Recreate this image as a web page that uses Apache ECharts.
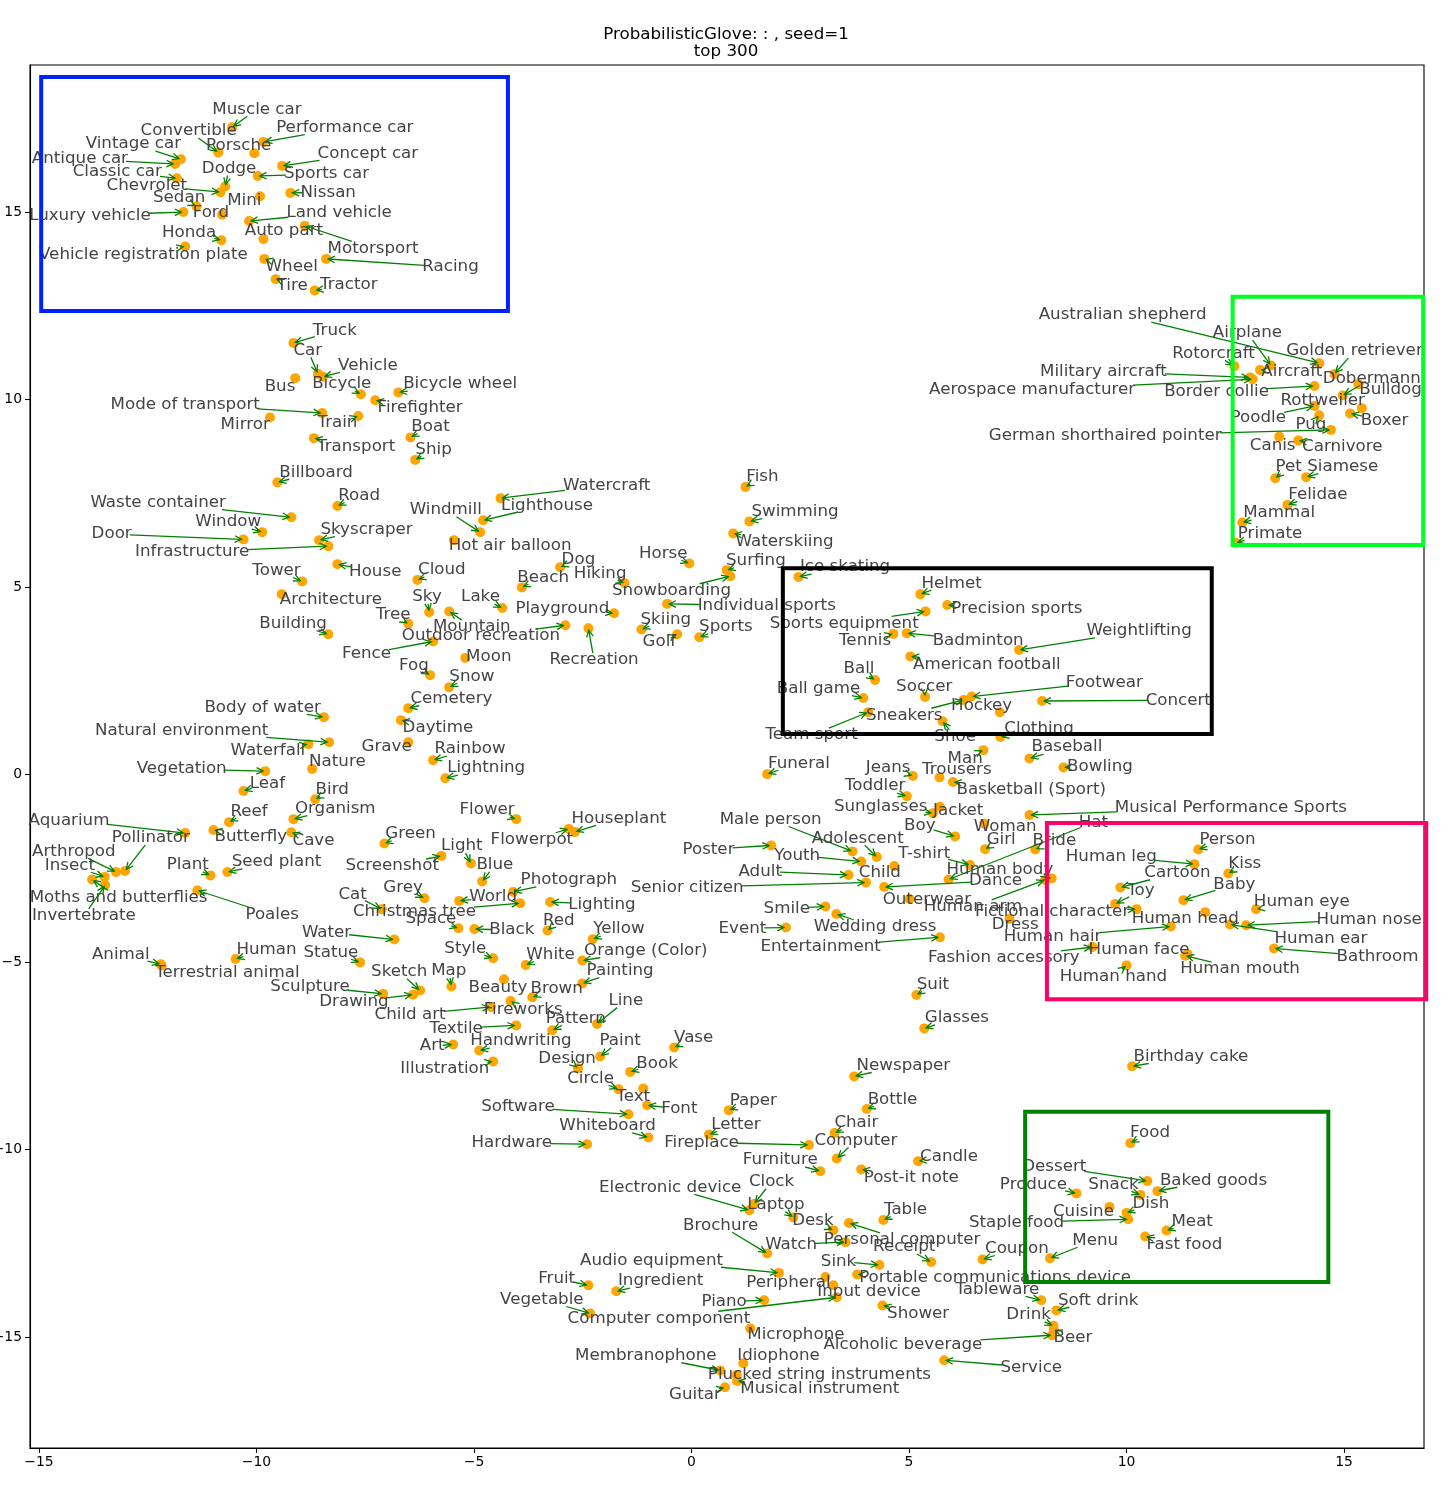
<!DOCTYPE html>
<html><head><meta charset="utf-8">
<script src="https://cdn.jsdelivr.net/npm/echarts@6/dist/echarts.min.js"></script>
<style>html,body{margin:0;padding:0;background:#fff}#chart{width:1452px;height:1492px}</style>
</head><body><div id="chart"></div>
<script>
const labels = [
"Muscle car","Convertible","Performance car","Porsche","Vintage car","Antique car","Classic car","Concept car","Dodge","Sports car",
"Chevrolet","Nissan","Sedan","Mini","Luxury vehicle","Ford","Land vehicle","Motorsport","Auto part","Honda",
"Vehicle registration plate","Racing","Wheel","Tire","Tractor","Truck","Car","Vehicle","Bus","Bicycle",
"Bicycle wheel","Firefighter","Mode of transport","Train","Mirror","Boat","Ship","Transport","Billboard","Road",
"Waste container","Window","Door","Skyscraper","Infrastructure","Windmill","Lighthouse","Hot air balloon","Watercraft","House",
"Cloud","Tower","Architecture","Sky","Lake","Mountain","Tree","Building","Outdoor recreation","Recreation",
"Fence","Moon","Fog","Snow","Cemetery","Daytime","Body of water","Natural environment","Waterfall","Grave",
"Rainbow","Nature","Vegetation","Lightning","Leaf","Bird","Organism","Reef","Aquarium","Butterfly",
"Cave","Green","Screenshot","Light","Blue","Pollinator","Arthropod","Insect","Plant","Seed plant",
"Moths and butterflies","Invertebrate","Poales","Grey","Cat","Photograph","World","Christmas tree","Space","Black",
"Water","Style","Animal","Terrestrial animal","Human","Statue","Sketch","Map","Sculpture","Drawing",
"Child art","Beauty","Fireworks","Textile","Art","Handwriting","Illustration","Flower","Houseplant","Flowerpot",
"Lighting","Red","Yellow","White","Orange (Color)","Painting","Brown","Pattern","Line","Paint",
"Design","Vase","Book","Circle","Text","Font","Software","Whiteboard","Hardware","Paper",
"Letter","Fireplace","Chair","Bottle","Computer","Candle","Furniture","Post-it note","Clock","Electronic device",
"Laptop","Desk","Personal computer","Table","Brochure","Watch","Receipt","Sink","Audio equipment","Portable communications device",
"Peripheral","Input device","Computer component","Fruit","Ingredient","Vegetable","Piano","Shower","Microphone","Alcoholic beverage",
"Service","Membranophone","Idiophone","Plucked string instruments","Musical instrument","Guitar","Tableware","Soft drink","Drink","Beer",
"Coupon","Menu","Food","Dessert","Produce","Snack","Baked goods","Cuisine","Dish","Staple food",
"Meat","Fast food","Newspaper","Birthday cake","Glasses","Suit","Fashion accessory","Entertainment","Event","Smile",
"Wedding dress","Dress","Human arm","Outerwear","Fictional character","Human hair","Human face","Human hand","Human mouth","Human head",
"Human ear","Human nose","Human eye","Bathroom","Baby","Toy","Cartoon","Kiss","Human leg","Person",
"Hat","Bride","Human body","Dance","Girl","Woman","Boy","Jacket","Sunglasses","Toddler",
"Musical Performance Sports","Basketball (Sport)","Trousers","Jeans","Man","Bowling","Baseball","Clothing","Shoe","Funeral",
"Male person","Adolescent","Poster","Youth","T-shirt","Adult","Child","Senior citizen","Fish","Swimming",
"Waterskiing","Horse","Surfing","Snowboarding","Dog","Beach","Hiking","Playground","Individual sports","Skiing",
"Golf","Sports","Ice skating","Helmet","Precision sports","Sports equipment","Tennis","Badminton","Weightlifting","American football",
"Ball","Ball game","Soccer","Footwear","Concert","Hockey","Sneakers","Team sport","Australian shepherd","Airplane",
"Rotorcraft","Golden retriever","Aircraft","Military aircraft","Aerospace manufacturer","Dobermann","Border collie","Bulldog","Rottweiler","Poodle",
"Pug","Boxer","German shorthaired pointer","Canis","Carnivore","Pet","Siamese","Felidae","Mammal","Primate"
];
const pointX = [
-10.56,-10.88,-9.84,-10.05,-11.74,-11.87,-11.83,-9.41,-10.72,-9.97,
-10.83,-9.22,-11.38,-9.92,-11.68,-10.79,-10.17,-8.89,-9.84,-10.81,
-11.64,-8.40,-9.82,-9.56,-8.66,-9.15,-8.59,-8.47,-9.11,-7.60,
-6.74,-7.27,-8.49,-7.66,-9.69,-6.46,-6.35,-8.68,-9.52,-8.14,
-9.20,-9.87,-10.30,-8.56,-8.35,-4.86,-4.79,-5.46,-4.39,-8.14,
-6.30,-8.95,-9.42,-6.03,-4.35,-5.57,-6.51,-8.35,-2.90,-2.37,
-5.94,-5.20,-6.01,-5.57,-6.51,-6.68,-8.45,-8.33,-8.81,-6.51,
-5.94,-8.72,-9.80,-5.66,-10.30,-8.65,-9.15,-10.63,-11.64,-10.99,
-9.20,-7.06,-5.75,-5.07,-4.81,-13.02,-13.23,-13.49,-11.06,-10.67,
-13.78,-13.48,-11.36,-6.14,-7.12,-4.10,-5.34,-3.94,-5.36,-4.99,
-6.83,-4.56,-12.20,-12.18,-10.48,-7.62,-6.24,-5.52,-7.09,-6.40,
-4.61,-4.31,-4.16,-4.03,-5.48,-4.88,-4.56,-4.03,-2.68,-2.82,
-3.25,-3.31,-2.27,-3.81,-2.51,-2.51,-3.66,-3.20,-2.17,-2.10,
-2.61,-0.40,-1.41,-1.68,-1.11,-1.02,-1.45,-0.99,-2.40,0.86,
0.40,2.70,3.29,4.03,3.34,5.21,2.96,3.90,1.44,1.33,
2.34,3.26,3.62,4.41,1.74,3.54,5.51,4.32,2.01,3.81,
3.08,3.26,3.34,-2.37,-1.73,-2.33,1.67,4.39,1.35,8.29,
5.81,0.66,1.19,1.04,1.05,0.77,8.04,8.39,8.32,8.33,
6.69,8.24,10.09,10.48,8.85,10.32,10.71,9.61,10.00,10.04,
10.92,10.43,3.74,10.13,5.35,5.17,9.22,5.71,2.17,3.08,
3.33,7.31,8.13,5.01,10.23,11.02,11.40,10.00,11.35,11.81,
12.38,12.75,12.98,13.39,11.31,9.74,9.86,12.34,11.56,11.65,
5.91,7.90,8.28,4.43,6.75,6.73,6.06,5.71,5.55,4.95,
7.77,6.01,5.70,5.09,6.71,8.55,7.77,7.10,5.77,1.74,
3.70,4.26,1.83,3.90,6.40,3.61,4.66,4.01,1.24,1.33,
0.96,-0.05,0.81,0.89,-3.02,-3.90,-1.54,-1.78,-0.56,-1.15,
-0.33,0.18,2.46,5.26,5.88,5.38,4.64,4.95,7.53,5.03,
4.22,3.95,5.37,6.44,8.06,7.09,6.26,4.06,14.43,13.32,
12.48,14.78,13.07,12.84,12.90,14.97,14.32,15.33,15.41,14.32,
14.43,15.14,14.70,13.51,13.95,13.42,14.13,13.70,12.66,12.52
];
const pointY = [
17.26,16.59,16.87,16.57,16.41,16.28,15.90,16.23,15.68,15.96,
15.53,15.51,15.15,15.42,15.00,14.93,14.76,14.63,14.28,14.25,
14.08,13.75,13.75,13.21,12.91,11.51,10.69,10.61,10.57,10.14,
10.19,9.98,9.64,9.56,9.52,8.99,8.39,8.97,7.79,7.16,
6.86,6.46,6.27,6.25,6.09,6.46,6.78,6.25,7.37,5.61,
5.19,5.15,4.81,4.33,4.44,4.35,4.02,3.74,3.98,3.90,
3.55,3.11,2.65,2.33,1.77,1.45,1.53,0.86,0.81,0.86,
0.38,0.15,0.09,-0.10,-0.44,-0.66,-1.19,-1.27,-1.56,-1.48,
-1.54,-1.84,-2.17,-2.37,-2.85,-2.57,-2.60,-2.73,-2.69,-2.60,
-2.80,-2.95,-3.09,-3.30,-3.59,-3.13,-3.37,-3.43,-4.10,-4.12,
-4.40,-4.90,-5.06,-5.09,-4.92,-5.01,-5.76,-5.65,-5.85,-5.87,
-6.20,-5.46,-6.04,-6.69,-7.20,-7.36,-7.65,-1.19,-1.53,-1.45,
-3.40,-4.16,-4.39,-5.08,-4.96,-5.57,-5.94,-6.82,-6.65,-7.52,
-7.83,-7.28,-7.93,-8.39,-8.37,-8.82,-9.06,-9.68,-9.86,-8.95,
-9.60,-9.88,-9.56,-8.92,-10.24,-10.31,-10.58,-10.53,-11.45,-11.62,
-11.81,-12.15,-11.96,-11.88,-12.77,-12.47,-13.00,-13.08,-13.29,-13.33,
-13.40,-13.62,-13.94,-13.62,-13.78,-14.37,-14.02,-14.16,-14.77,-14.95,
-15.62,-15.89,-15.70,-16.01,-16.17,-16.34,-14.02,-14.29,-14.70,-14.80,
-12.93,-12.90,-9.83,-10.84,-11.17,-11.21,-11.11,-11.53,-11.69,-11.86,
-12.16,-12.32,-8.05,-7.78,-6.77,-5.88,-4.60,-4.34,-4.08,-3.52,
-3.72,-3.85,-2.81,-3.32,-3.59,-4.05,-4.79,-5.09,-4.83,-3.67,
-4.00,-4.02,-3.59,-4.64,-3.35,-3.45,-3.01,-2.64,-2.39,-2.00,
-2.80,-2.00,-2.77,-3.00,-1.99,-1.31,-1.65,-0.86,-1.03,-0.58,
-1.08,-0.20,-0.08,-0.04,0.65,0.19,0.43,1.00,1.42,0.01,
-2.05,-2.20,-1.89,-2.32,-2.41,-2.68,-2.44,-2.88,7.67,6.75,
6.43,5.63,5.45,5.29,5.53,4.99,5.10,4.30,4.55,3.87,
3.74,3.66,5.27,4.81,4.52,4.35,3.75,3.77,3.32,3.15,
2.52,2.04,2.07,2.08,1.96,1.66,1.99,1.66,10.97,10.91,
10.89,10.68,10.79,10.59,10.54,10.11,10.36,10.41,9.77,9.83,
9.58,9.63,9.19,9.01,8.91,7.90,7.93,7.19,6.72,6.18
];
const textX = [
-9.99,-11.56,-7.97,-10.41,-12.83,-14.06,-13.20,-7.44,-10.63,-8.39,
-12.52,-8.35,-11.78,-10.28,-13.83,-11.05,-8.10,-7.32,-9.37,-11.55,
-12.60,-5.54,-9.19,-9.18,-7.88,-8.20,-8.82,-7.44,-9.46,-8.04,
-5.32,-6.24,-11.64,-8.14,-10.26,-6.00,-5.93,-7.71,-8.63,-7.64,
-12.26,-10.65,-13.33,-7.47,-11.48,-5.65,-3.32,-4.17,-1.95,-7.27,
-5.74,-9.54,-8.29,-6.08,-4.85,-5.05,-6.86,-9.16,-4.84,-2.24,
-7.47,-4.66,-6.38,-5.05,-5.52,-5.83,-9.86,-11.72,-9.74,-7.01,
-5.09,-8.14,-11.72,-4.72,-9.75,-8.26,-8.19,-10.17,-14.31,-10.13,
-8.69,-6.46,-6.88,-5.28,-4.52,-12.43,-14.20,-14.29,-11.58,-9.54,
-13.17,-13.97,-9.64,-6.63,-7.79,-2.82,-4.56,-6.37,-5.99,-4.13,
-8.39,-5.20,-13.12,-10.67,-9.77,-8.29,-6.72,-5.58,-8.77,-7.76,
-6.47,-4.45,-3.87,-5.41,-5.96,-3.92,-5.67,-4.70,-1.67,-3.67,
-2.06,-3.05,-1.67,-3.24,-1.05,-1.64,-3.10,-2.66,-1.51,-1.64,
-2.86,0.05,-0.79,-2.32,-1.34,-0.28,-3.99,-1.93,-4.13,1.42,
1.02,0.23,3.79,4.62,3.78,5.92,2.04,5.05,1.84,-0.49,
1.94,2.79,4.84,4.92,0.67,2.29,4.89,3.38,-0.92,6.98,
2.23,4.08,-0.75,-3.10,-0.71,-3.44,0.75,5.21,2.40,4.86,
7.81,-1.05,2.00,2.94,2.95,0.08,7.03,9.35,7.75,8.77,
7.48,9.28,10.54,8.34,7.86,9.70,12.00,9.01,10.56,7.47,
11.51,11.33,4.87,11.48,6.10,5.55,7.18,2.97,1.17,2.19,
4.22,7.44,6.47,5.41,8.29,8.30,10.29,9.70,12.61,11.35,
14.47,15.58,14.03,15.77,12.48,10.33,11.17,12.72,9.65,12.32,
9.24,8.34,7.09,6.99,7.12,7.21,5.25,6.13,4.35,4.22,
12.40,7.81,6.10,4.52,6.29,9.39,8.63,7.99,6.06,2.47,
1.82,3.82,0.39,2.43,5.35,1.58,4.33,-0.10,1.63,2.38,
2.14,-0.65,1.48,-0.46,-2.60,-3.41,-2.10,-2.97,1.73,-0.59,
-0.74,0.79,3.53,5.98,7.48,3.51,3.99,6.59,10.29,6.79,
3.85,2.92,5.35,9.49,11.19,6.67,4.89,2.76,9.91,12.78,
12.00,15.24,13.80,9.47,7.83,15.64,12.07,16.07,14.51,13.03,
14.24,15.93,9.51,13.36,14.96,13.73,14.97,14.40,13.51,13.30
];
const textY = [
17.74,17.16,17.25,16.78,16.81,16.42,16.08,16.56,16.16,16.02,
15.71,15.52,15.38,15.31,14.91,14.99,14.99,14.03,14.49,14.46,
13.87,13.53,13.53,13.03,13.05,11.83,11.31,10.91,10.35,10.41,
10.41,9.77,9.87,9.37,9.34,9.28,8.67,8.75,8.06,7.44,
7.25,6.73,6.41,6.53,5.93,7.06,7.18,6.09,7.71,5.41,
5.45,5.44,4.65,4.74,4.73,3.93,4.27,4.02,3.69,3.05,
3.22,3.13,2.91,2.62,2.02,1.26,1.79,1.16,0.63,0.73,
0.68,0.34,0.15,0.17,-0.24,-0.40,-0.91,-0.98,-1.22,-1.67,
-1.76,-1.58,-2.44,-1.91,-2.41,-1.69,-2.05,-2.42,-2.41,-2.33,
-3.28,-3.77,-3.74,-3.01,-3.20,-2.81,-3.27,-3.67,-3.85,-4.15,
-4.21,-4.64,-4.80,-5.28,-4.67,-4.74,-5.26,-5.24,-5.65,-6.06,
-6.40,-5.69,-6.28,-6.77,-7.24,-7.11,-7.85,-0.95,-1.17,-1.74,
-3.46,-3.89,-4.12,-4.80,-4.70,-5.23,-5.70,-6.50,-6.03,-7.10,
-7.58,-7.02,-7.70,-8.10,-8.58,-8.92,-8.87,-9.37,-9.83,-8.69,
-9.33,-9.81,-9.28,-8.66,-9.76,-10.20,-10.28,-10.74,-10.86,-11.01,
-11.47,-11.90,-12.41,-11.60,-12.02,-12.53,-12.60,-12.98,-12.96,-13.43,
-13.55,-13.78,-14.50,-13.44,-13.51,-14.00,-14.05,-14.37,-14.93,-15.21,
-15.81,-15.50,-15.51,-16.01,-16.37,-16.55,-13.73,-14.02,-14.41,-15.02,
-12.64,-12.42,-9.54,-10.46,-10.93,-10.93,-10.82,-11.67,-11.44,-11.94,
-11.92,-12.53,-7.76,-7.52,-6.49,-5.60,-4.89,-4.59,-4.10,-3.57,
-4.06,-4.00,-3.53,-3.35,-3.67,-4.33,-4.66,-5.38,-5.19,-3.85,
-4.37,-3.86,-3.39,-4.86,-2.93,-3.11,-2.62,-2.37,-2.18,-1.73,
-1.28,-1.77,-2.53,-2.83,-1.74,-1.39,-1.37,-0.97,-0.86,-0.31,
-0.89,-0.40,0.12,0.19,0.43,0.21,0.73,1.23,1.01,0.30,
-1.20,-1.70,-2.00,-2.16,-2.10,-2.58,-2.63,-3.01,7.93,7.01,
6.21,5.90,5.70,4.90,5.73,5.26,5.36,4.43,4.50,4.14,
3.53,3.94,5.53,5.10,4.42,4.03,3.57,3.58,3.83,2.94,
2.81,2.29,2.34,2.46,1.98,1.84,1.58,1.05,12.25,11.77,
11.23,11.29,10.73,10.75,10.25,10.56,10.22,10.27,9.97,9.51,
9.33,9.43,9.03,8.76,8.73,8.21,8.21,7.47,6.97,6.43
];
// highlighted group boxes (data coordinates)
const boxX0 = [-14.95, 12.44, 2.10, 8.17, 7.67];
const boxY0 = [18.60, 12.74, 5.50, -1.29, -8.99];
const boxX1 = [-4.22, 16.82, 11.96, 16.89, 14.64];
const boxY1 = [12.36, 6.12, 1.08, -5.99, -13.53];
const xTicks = [-15, -10, -5, 0, 5, 10, 15];
const yTicks = [-15, -10, -5, 0, 5, 10, 15];

// ---- styles ----
const BOX_COLORS = ['#0022ff', '#00ff22', '#000000', '#ff0066', '#008000'];
const POINT_COLOR = '#ffa500';
const ARROW_COLOR = '#008000';
const LABEL_COLOR = '#444444';
const FONT = 'DejaVu Sans';
const LABEL_SIZE = 16.7;

const mctx = document.createElement('canvas').getContext('2d');
mctx.font = LABEL_SIZE + 'px "' + FONT + '"';

const pointData = pointX.map((x, i) => [x, pointY[i]]);
const labelData = labels.map((l, i) => [pointX[i], pointY[i], textX[i], textY[i], i]);
const boxData = boxX0.map((x, i) => [x, boxY0[i], boxX1[i], boxY1[i], i]);

function renderLabel(params, api) {
  const i = api.value(4);
  const p = api.coord([api.value(0), api.value(1)]);
  const c = api.coord([api.value(2), api.value(3)]);
  const text = labels[i];
  const w = mctx.measureText(text).width - 4;
  const h = 14;
  const children = [];
  const dx = p[0] - c[0], dy = p[1] - c[1];
  const len = Math.hypot(dx, dy);
  let t0 = Infinity;
  if (Math.abs(dx) > 1e-9) t0 = Math.min(t0, (w / 2) / Math.abs(dx));
  if (Math.abs(dy) > 1e-9) t0 = Math.min(t0, (h / 2) / Math.abs(dy));
  if (len > 0 && t0 < 1) {
    const ux = dx / len, uy = dy / len;
    const sx = c[0] + dx * t0, sy = c[1] + dy * t0;
    const ex = p[0] - ux * 2, ey = p[1] - uy * 2;
    if ((ex - sx) * ux + (ey - sy) * uy > 1) {
      const hl = 6.7, hw = 3.3;
      children.push({type: 'line', shape: {x1: sx, y1: sy, x2: ex, y2: ey},
        style: {stroke: ARROW_COLOR, lineWidth: 1.3}});
      children.push({type: 'polyline', shape: {points: [
          [ex - ux * hl - uy * hw, ey - uy * hl + ux * hw], [ex, ey],
          [ex - ux * hl + uy * hw, ey - uy * hl - ux * hw]]},
        style: {stroke: ARROW_COLOR, fill: 'none', lineWidth: 1.3}});
    }
  }
  children.push({type: 'text', x: c[0], y: c[1], style: {text: text, fill: LABEL_COLOR,
    fontSize: LABEL_SIZE, fontFamily: FONT, align: 'center', verticalAlign: 'middle'}});
  return {type: 'group', children: children};
}

function renderBox(params, api) {
  const a = api.coord([api.value(0), api.value(1)]);
  const b = api.coord([api.value(2), api.value(3)]);
  const i = api.value(4);
  return {type: 'rect', shape: {x: Math.min(a[0], b[0]), y: Math.min(a[1], b[1]),
      width: Math.abs(b[0] - a[0]), height: Math.abs(b[1] - a[1])},
    style: {stroke: BOX_COLORS[i], fill: 'none', lineWidth: 4}};
}

const fmt = v => (v < 0 ? '\u2212' + Math.abs(v) : String(v));
const axisCommon = {
  type: 'value', splitLine: {show: false},
  axisLine: {show: true, onZero: false, lineStyle: {color: '#000', width: 1.1}},
  axisTick: {show: true, length: 5, lineStyle: {color: '#000', width: 1.1}},
  axisLabel: {color: '#000', fontSize: 13.9, fontFamily: FONT, formatter: fmt}
};

const chart = echarts.init(document.getElementById('chart'), null, {renderer: 'canvas'});
chart.setOption({
  animation: false,
  backgroundColor: '#fff',
  title: {text: 'ProbabilisticGlove: : , seed=1\ntop 300', left: 'center', top: 21,
    textStyle: {fontSize: 16.7, fontWeight: 'normal', color: '#000', fontFamily: FONT, lineHeight: 17}},
  grid: {left: 30, right: 28, top: 65, bottom: 44, containLabel: false, outerBoundsMode: 'none',
    show: true, borderColor: '#000', borderWidth: 1.1},
  xAxis: Object.assign({}, axisCommon, {min: -15.207, max: 16.839,
    axisTick: Object.assign({}, axisCommon.axisTick, {customValues: xTicks}),
    axisLabel: Object.assign({}, axisCommon.axisLabel, {customValues: xTicks, margin: 7})}),
  yAxis: Object.assign({}, axisCommon, {min: -17.96, max: 18.92,
    axisTick: Object.assign({}, axisCommon.axisTick, {customValues: yTicks}),
    axisLabel: Object.assign({}, axisCommon.axisLabel, {customValues: yTicks, margin: 8})}),
  series: [
    {type: 'scatter', data: pointData, symbolSize: 10, z: 2,
      itemStyle: {color: POINT_COLOR, opacity: 1}, silent: true},
    {type: 'custom', data: labelData, renderItem: renderLabel, z: 3, clip: false, silent: true,
      encode: {x: [0, 2], y: [1, 3]}},
    {type: 'custom', data: boxData, renderItem: renderBox, z: 4, clip: false, silent: true,
      encode: {x: [0, 2], y: [1, 3]}}
  ]
});
</script>
</body></html>
